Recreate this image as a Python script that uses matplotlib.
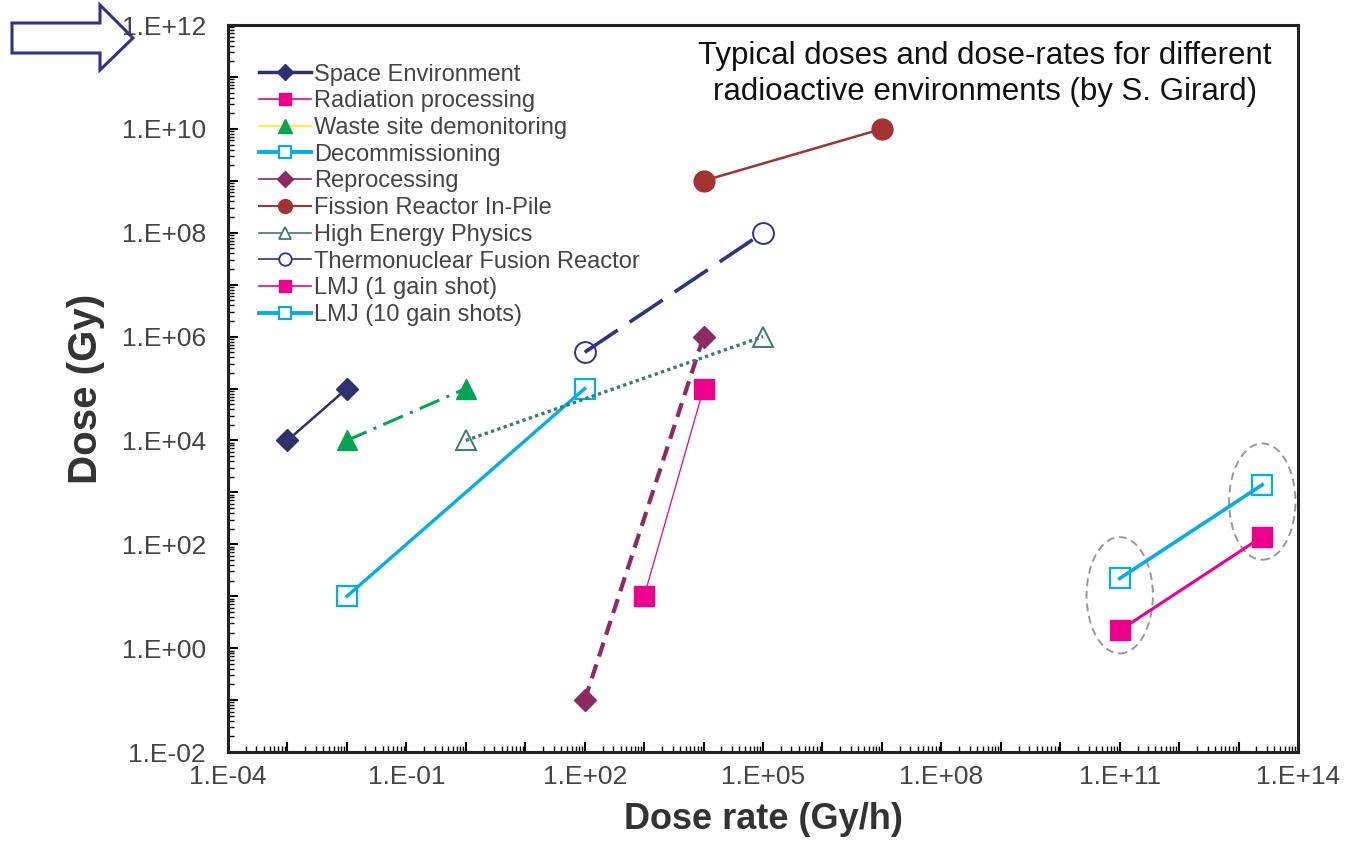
import numpy as np
import matplotlib.pyplot as plt
from matplotlib.lines import Line2D
from matplotlib.patches import Ellipse, Polygon
from matplotlib.ticker import LogLocator, FuncFormatter, NullFormatter

plt.rcParams['font.family'] = ['Liberation Sans', 'DejaVu Sans']

# Data (dose rate in Gy/h, dose in Gy)
space_x = [1e-3, 1e-2]
space_y = [1e4, 1e5]
radproc_x = [1e3, 1e4]
radproc_y = [1e1, 1e5]
waste_x = [1e-2, 1e0]
waste_y = [1e4, 1e5]
decom_x = [1e-2, 1e2]
decom_y = [1e1, 1e5]
reproc_x = [1e2, 1e4]
reproc_y = [1e-1, 1e6]
fission_x = [1e4, 1e7]
fission_y = [1e9, 1e10]
hep_x = [1e0, 1e5]
hep_y = [1e4, 1e6]
fusion_x = [1e2, 1e5]
fusion_y = [5e5, 1e8]
lmj1_x = [1e11, 2.5e13]
lmj1_y = [2.2, 1.4e2]
lmj10_x = [1e11, 2.5e13]
lmj10_y = [22, 1.4e3]

labels = ["Space Environment", "Radiation processing", "Waste site demonitoring",
          "Decommissioning", "Reprocessing", "Fission Reactor In-Pile",
          "High Energy Physics", "Thermonuclear Fusion Reactor",
          "LMJ (1 gain shot)", "LMJ (10 gain shots)"]

NAVY = '#2E3170'
MAGENTA = '#EC008C'
GREEN = '#00A651'
YELLOW = '#FFF200'
CYAN = '#00AEEF'
PLUM = '#8E2A62'
BROWN = '#A33232'
TEAL = '#3A7D6E'
BLUE = '#2E3192'


def exp_label(v, every, rest):
    e = int(round(np.log10(v)))
    return "1.E{:+03d}".format(e) if e % every == rest else ""


fig = plt.figure(figsize=(13.51, 8.63), dpi=100)
ax = fig.add_axes([0.1688, 0.1286, 0.792, 0.8424])

ax.plot(space_x, space_y, color=NAVY, lw=1.8, marker='D', ms=11, mec=NAVY, mfc=NAVY)
ax.plot(radproc_x, radproc_y, color=MAGENTA, lw=0.9, marker='s', ms=15, mec=MAGENTA, mfc=MAGENTA)
ax.plot(waste_x, waste_y, color=GREEN, lw=2.2, ls=(0, (7, 2.5, 1, 2.5)), marker='^', ms=15, mec=GREEN, mfc=GREEN)
ax.plot(decom_x, decom_y, color=CYAN, lw=2.4, marker='s', ms=15, mec=CYAN, mfc='none', mew=1.6)
ax.plot(reproc_x, reproc_y, color=PLUM, lw=3, ls=(0, (3.5, 2)), marker='D', ms=11, mec=PLUM, mfc=PLUM)
ax.plot(fission_x, fission_y, color=BROWN, lw=1.8, marker='o', ms=15, mec=BROWN, mfc=BROWN)
ax.plot(hep_x, hep_y, color=TEAL, lw=2.4, ls=(0, (1, 1)), marker='^', ms=15, mec=TEAL, mfc='none', mew=1.4)
ax.plot(fusion_x, fusion_y, color=BLUE, lw=2.6, ls=(0, (11, 4)), marker='o', ms=15, mec=BLUE, mfc='none', mew=1.4)
ax.plot(lmj1_x, lmj1_y, color=MAGENTA, lw=2.2, marker='s', ms=15, mec=MAGENTA, mfc=MAGENTA)
ax.plot(lmj10_x, lmj10_y, color=CYAN, lw=2.6, marker='s', ms=15, mec=CYAN, mfc='none', mew=1.6)

ax.set_xscale('log')
ax.set_yscale('log')
ax.set_xlim(1e-4, 1e14)
ax.set_ylim(1e-2, 1e12)

# dashed ellipses round the LMJ pairs
fig.canvas.draw()
for cx, ya, yb in [(lmj1_x[0], lmj1_y[0], lmj10_y[0]), (lmj1_x[1], lmj1_y[1], lmj10_y[1])]:
    ym = np.sqrt(ya * yb) * 1.5
    fx, fy = ax.transAxes.inverted().transform(ax.transData.transform((cx, ym)))
    ax.add_patch(Ellipse((fx, fy), 0.062, 0.16, transform=ax.transAxes, fill=False,
                         ec='#9A9696', lw=1.4, ls=(0, (4, 2.5))))

ax.xaxis.set_major_locator(LogLocator(base=10, numticks=30))
ax.yaxis.set_major_locator(LogLocator(base=10, numticks=30))
ax.xaxis.set_major_formatter(FuncFormatter(lambda v, p: exp_label(v, 3, 2)))
ax.yaxis.set_major_formatter(FuncFormatter(lambda v, p: exp_label(v, 2, 0)))
ax.xaxis.set_minor_locator(LogLocator(base=10, subs=np.arange(2, 10), numticks=30))
ax.yaxis.set_minor_locator(LogLocator(base=10, subs=np.arange(2, 10), numticks=30))
ax.xaxis.set_minor_formatter(NullFormatter())
ax.yaxis.set_minor_formatter(NullFormatter())
ax.tick_params(which='major', direction='in', length=7, width=1.5, labelsize=19,
               labelcolor='#444444', top=False, right=False)
ax.tick_params(which='minor', direction='in', length=4, width=1.0, top=False, right=False)
ax.tick_params(axis='y', which='major', pad=16)
ax.tick_params(axis='x', which='major', pad=9)
for s in ax.spines.values():
    s.set_linewidth(2.2)
    s.set_color('#222222')

ax.set_xlabel("Dose rate (Gy/h)", fontsize=26, fontweight='bold', color='#333333', labelpad=10)
ax.set_ylabel("Dose (Gy)", fontsize=29, fontweight='bold', color='#333333', labelpad=12)

handles = [
    Line2D([], [], color=NAVY, lw=2.5, marker='D', ms=8, mfc=NAVY, mec=NAVY),
    Line2D([], [], color=MAGENTA, lw=1.2, marker='s', ms=9, mfc=MAGENTA, mec=MAGENTA),
    Line2D([], [], color=YELLOW, lw=1.2, marker='^', ms=10, mfc=GREEN, mec=GREEN),
    Line2D([], [], color=CYAN, lw=2.8, marker='s', ms=9, mfc='white', mec=CYAN, mew=1.5),
    Line2D([], [], color=PLUM, lw=1.2, marker='D', ms=8, mfc=PLUM, mec=PLUM),
    Line2D([], [], color=BROWN, lw=1.5, marker='o', ms=10, mfc=BROWN, mec=BROWN),
    Line2D([], [], color=TEAL, lw=1.2, marker='^', ms=9, mfc='white', mec=TEAL, mew=1.3),
    Line2D([], [], color=BLUE, lw=1.2, marker='o', ms=9, mfc='white', mec=BLUE, mew=1.3),
    Line2D([], [], color=MAGENTA, lw=1.2, marker='s', ms=9, mfc=MAGENTA, mec=MAGENTA),
    Line2D([], [], color=CYAN, lw=2.8, marker='s', ms=9, mfc='white', mec=CYAN, mew=1.5),
]
ax.legend(handles, labels, loc='upper left', bbox_to_anchor=(0.02, 0.96), frameon=False,
          fontsize=17, labelspacing=0.2, handlelength=2.2, handletextpad=0.15,
          borderaxespad=0, labelcolor='#444444')

fig.text(0.729, 0.953, "Typical doses and dose-rates for different\nradioactive environments (by S. Girard)",
         ha='center', va='top', fontsize=22.5, color='#111111', linespacing=1.3)

# slide arrow decoration at top-left
W, H = 1351.0, 863.0
arrow_px = [(12, 23), (100, 23), (100, 5), (133, 38), (100, 70), (100, 53), (12, 53)]
fig.patches.append(Polygon([(x / W, 1 - y / H) for x, y in arrow_px], closed=True,
                           transform=fig.transFigure, fill=False, ec='#2E3192', lw=2.2))

fig.savefig("out.png", dpi=100)
